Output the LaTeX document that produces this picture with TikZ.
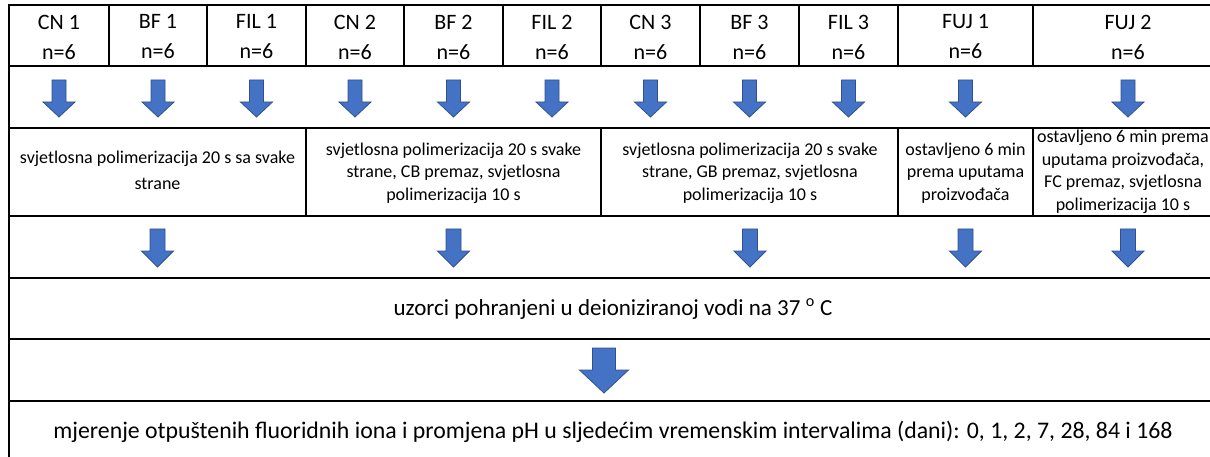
\documentclass[tikz,border=0pt]{standalone}
\usepackage{fontspec}
\setmainfont{Carlito}

\definecolor{arrowfill}{HTML}{4472C4}
\definecolor{arrowline}{HTML}{2F528F}

\tikzset{
  rule/.style={line width=1.8pt},
  groupcell/.style={align=center, font=\fontsize{22}{30}\selectfont},
  stepcell/.style={align=center, font=\fontsize{18}{22.5}\selectfont},
  bandcell/.style={font=\fontsize{23}{27}\selectfont},
  pics/blockarrow/.style args={#1/#2/#3/#4}{code={
    \filldraw[fill=arrowfill, draw=arrowline, line width=0.8pt]
      (-#1,0) -- (#1,0) -- (#1,#3) -- (#2,#3) -- (0,#4) -- (-#2,#3) -- (-#1,#3) -- cycle;
  }},
}

\begin{document}
\begin{tikzpicture}[x=1pt,y=-1pt]
\useasboundingbox (0,0) rectangle (1210,457);
\clip (0,0) rectangle (1210,457);

% table lines
\draw[rule] (9,5) rectangle (1223,480);
\foreach \y in {66,128,216,278,339,401}
  \draw[rule] (9,\y) -- (1223,\y);
\foreach \x in {109,207,306,404,503,601,700,799,898,1033}
  \draw[rule] (\x,5) -- (\x,66);
\foreach \x in {306,601,898,1033}
  \draw[rule] (\x,128) -- (\x,216);

% groups
\foreach \name/\lab/\xa/\xb in {cn1/CN 1/9/109, bf1/BF 1/109/207, fil1/FIL 1/207/306,
    cn2/CN 2/306/404, bf2/BF 2/404/503, fil2/FIL 2/503/601,
    cn3/CN 3/601/700, bf3/BF 3/700/799, fil3/FIL 3/799/898,
    fuj1/FUJ 1/898/1033, fuj2/FUJ 2/1033/1223}
{
  \node[groupcell] (\name) at ({(\xa+\xb)/2},37) {\lab\\n=6};
  \pic at (\name |- 0,80) {blockarrow=7/16/22/37};
}

% treatment
\node[stepcell, font=\fontsize{18}{26}\selectfont] (cure1) at (157.5,170)
  {svjetlosna polimerizacija 20 s sa svake\\strane};
\node[stepcell] (cure2) at (453.5,173)
  {svjetlosna polimerizacija 20 s svake\\strane, CB premaz, svjetlosna\\polimerizacija 10 s};
\node[stepcell] (cure3) at (750,173)
  {svjetlosna polimerizacija 20 s svake\\strane, GB premaz, svjetlosna\\polimerizacija 10 s};
\node[stepcell] (wait1) at (965.5,173)
  {ostavljeno 6 min\\prema uputama\\proizvođača};
\node[stepcell] (wait2) at (1123,172)
  {ostavljeno 6 min prema\\uputama proizvođača,\\FC premaz, svjetlosna\\polimerizacija 10 s};

\foreach \name in {cure1,cure2,cure3,wait1}
  \pic at (\name |- 0,229) {blockarrow=7.5/16/22/38};
\pic at (fuj2 |- 0,229) {blockarrow=7.5/16/22/38};

% storage and measuring
\node[bandcell] (store) at (613,309)
  {uzorci pohranjeni u deioniziranoj vodi na 37 \textsuperscript{o} C};
\pic at (604,348) {blockarrow=11.5/24.5/22/45};
\node[bandcell, font=\fontsize{23.8}{28}\selectfont] (measure) at (613,432)
  {mjerenje otpuštenih fluoridnih iona i promjena pH u sljedećim vremenskim intervalima (dani): 0, 1, 2, 7, 28, 84 i 168};
\end{tikzpicture}
\end{document}
